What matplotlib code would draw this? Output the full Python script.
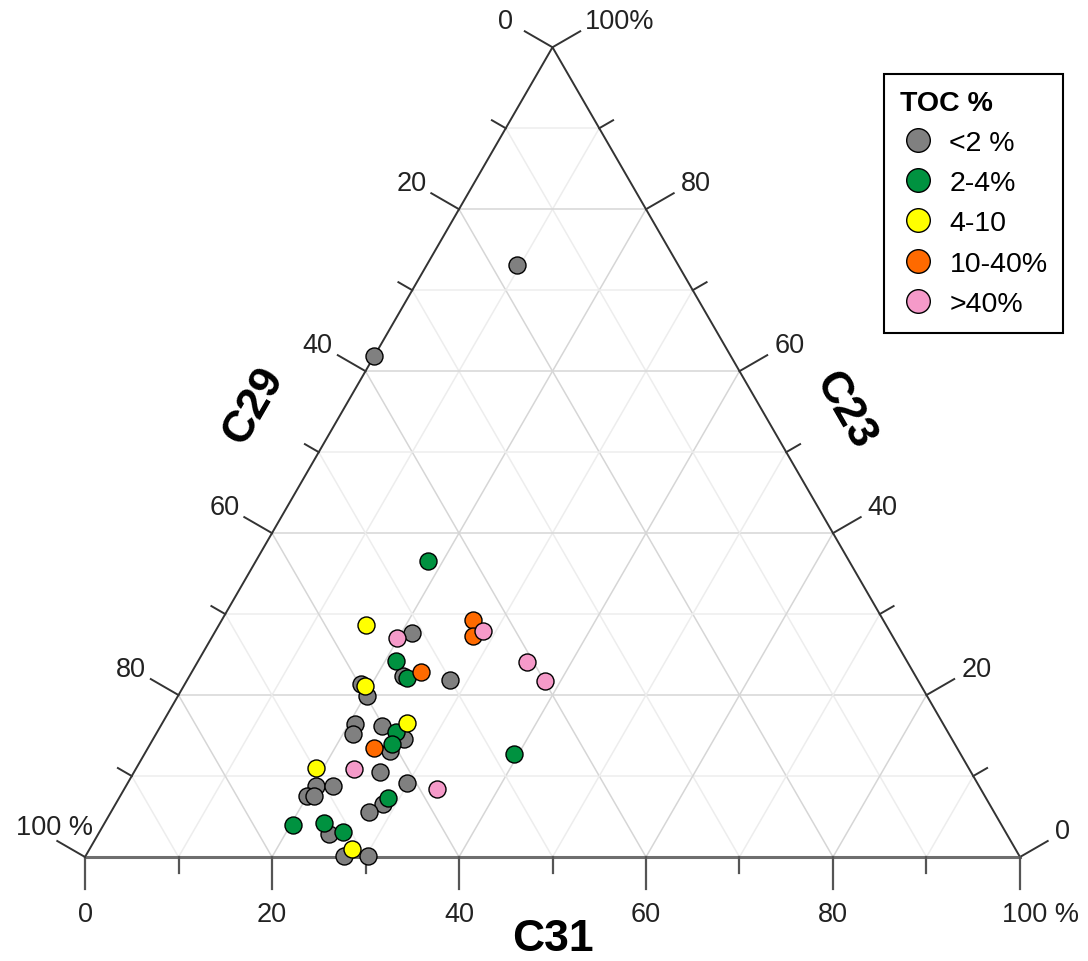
import numpy as np
import pandas as pd
import matplotlib
matplotlib.use('Agg')
import matplotlib.pyplot as plt
from matplotlib.lines import Line2D

plt.rcParams['font.family'] = ['Liberation Sans', 'DejaVu Sans']

# ternary data, in percent (C29 = 100 - C31 - C23)
gray_c31 = [9.7, 0.0, 21.1, 22.8, 28.1, 18.8, 20.2, 20.7, 21.1, 23.7, 26.8, 26.1,
            26.3, 20.3, 22.1, 20.0, 20.7, 29.9, 28.6, 27.6, 24.7, 27.7, 30.2]
gray_c23 = [73.1, 61.9, 27.7, 22.4, 21.9, 21.4, 19.9, 16.4, 15.2, 16.2, 14.6, 13.1,
            10.5, 8.8, 8.8, 7.5, 7.5, 9.1, 6.5, 5.6, 2.8, 0.1, 0.1]
green_c31 = [18.4, 21.2, 23.4, 25.6, 25.8, 39.5, 28.8, 20.2, 23.5, 26.0]
green_c23 = [36.6, 24.2, 22.1, 15.4, 14.0, 12.7, 7.3, 4.0, 4.2, 3.1]
yellow_c31 = [15.7, 19.4, 26.2, 19.2, 28.1]
yellow_c23 = [28.7, 21.1, 16.5, 11.0, 1.0]
orange_c31 = [26.9, 27.9, 24.5, 24.2]
orange_c23 = [29.3, 27.3, 22.8, 13.5]
pink_c31 = [19.9, 28.6, 35.2, 38.3, 23.3, 33.4]
pink_c23 = [27.0, 27.9, 24.1, 21.7, 10.9, 8.4]

groups = ['<2 %', '2-4%', '4-10', '10-40%', '>40%']
group_colors = ['#808080', '#009240', '#ffff00', '#ff6a00', '#f59ac9']

frames = []
for g, c31, c23 in zip(groups,
                       [gray_c31, green_c31, yellow_c31, orange_c31, pink_c31],
                       [gray_c23, green_c23, yellow_c23, orange_c23, pink_c23]):
    d = pd.DataFrame({'C31': c31, 'C23': c23})
    d['C29'] = 100 - d['C31'] - d['C23']
    d['TOC'] = g
    frames.append(d)
df = pd.concat(frames, ignore_index=True)

S = np.sqrt(3) / 2
PX = 1 / 935.0  # one pixel in triangle units


def tern(c31, c23):
    c31 = np.asarray(c31) / 100.0
    c23 = np.asarray(c23) / 100.0
    return c31 + c23 / 2, c23 * S


fig = plt.figure(figsize=(10.88, 9.62), dpi=100)
ax = fig.add_axes([0, 0, 1, 1])
ax.set_xlim(-85 * PX, 1003 * PX)
ax.set_ylim(-104 * PX, 858 * PX)
ax.set_aspect('equal')
ax.axis('off')

# grid
for v in range(10, 100, 10):
    f = v / 100.0
    col = '#d6d6d6' if v % 20 == 0 else '#ededed'
    ax.plot([f / 2, 1 - f / 2], [f * S, f * S], color=col, lw=1.1, zorder=1)
    ax.plot([f, f + (1 - f) / 2], [0, (1 - f) * S], color=col, lw=1.1, zorder=1)
    ax.plot([1 - f, (1 - f) / 2], [0, (1 - f) * S], color=col, lw=1.1, zorder=1)

# triangle
ax.plot([0, 0.5, 1], [0, S, 0], color='#333333', lw=1.4, zorder=2)
ax.plot([0, 1], [0, 0], color='#6e6e6e', lw=2.2, zorder=2)

lab_kw = dict(fontsize=19.5, color='#222222')
nl = np.array([-S, 0.5])
nr = np.array([S, 0.5])
for v in range(0, 101, 10):
    f = v / 100.0
    ln = (32 if v % 20 == 0 else 16) * PX
    # bottom (C31)
    ax.plot([f, f], [0, -ln], color='#555555', lw=1.6, zorder=2)
    # left (C29)
    p = np.array([(1 - f) / 2, (1 - f) * S])
    ax.plot([p[0], p[0] + nl[0] * ln], [p[1], p[1] + nl[1] * ln], color='#333333', lw=1.4, zorder=2)
    # right (C23)
    q = np.array([1 - f / 2, f * S])
    ax.plot([q[0], q[0] + nr[0] * ln], [q[1], q[1] + nr[1] * ln], color='#333333', lw=1.4, zorder=2)
    if v % 20 != 0:
        continue
    e = p + nl * ln
    r = q + nr * ln
    if v == 100:
        ax.text(f + 21 * PX, -44 * PX, '100 %', ha='center', va='top', **lab_kw)
        ax.text(e[0] + 36 * PX, e[1] + 14 * PX, '100 %', ha='right', va='center', **lab_kw)
        ax.text(r[0] + 5 * PX, r[1] + 10 * PX, '100%', ha='left', va='center', **lab_kw)
    else:
        ax.text(f, -44 * PX, str(v), ha='center', va='top', **lab_kw)
        dx = -12 if v == 0 else -5
        ax.text(e[0] + dx * PX, e[1] + 10 * PX, str(v), ha='right', va='center', **lab_kw)
        ax.text(r[0] + 7 * PX, r[1] + 10 * PX, str(v), ha='left', va='center', **lab_kw)

# axis titles
ttl = dict(fontsize=32, fontweight='bold', ha='center', va='center')
ax.text(0.5, -82 * PX, 'C31', **ttl)
m = np.array([0.25, S / 2]) + nl * 80 * PX + np.array([0.5, S]) * 8 * PX
ax.text(m[0], m[1], 'C29', rotation=60, rotation_mode='anchor', **ttl)
m = np.array([0.75, S / 2]) + nr * 72 * PX + np.array([-0.5, S]) * 8 * PX
ax.text(m[0], m[1], 'C23', rotation=-60, rotation_mode='anchor', **ttl)

# points
for g, col in zip(groups, group_colors):
    sub = df[df['TOC'] == g]
    x, y = tern(sub['C31'], sub['C23'])
    ax.scatter(x, y, s=150, color=col, edgecolor='black', linewidth=1.0, zorder=3, clip_on=False)

# legend
handles = [Line2D([], [], ls='none', marker='o', markersize=17, markerfacecolor=c,
                  markeredgecolor='black', markeredgewidth=1.0) for c in group_colors]
leg = fig.legend(handles, groups, loc='upper left', bbox_to_anchor=(884 / 1088, 1 - 75 / 962),
                 title='TOC %', title_fontproperties={'weight': 'bold', 'size': 20.5},
                 alignment='left', fontsize=20.5, frameon=True, fancybox=False,
                 edgecolor='black', framealpha=1, labelspacing=0.5, handletextpad=0.45,
                 handlelength=1.3, borderpad=0.55, borderaxespad=0)
leg.get_frame().set_linewidth(1.5)

plt.savefig('out.png', dpi=100)
